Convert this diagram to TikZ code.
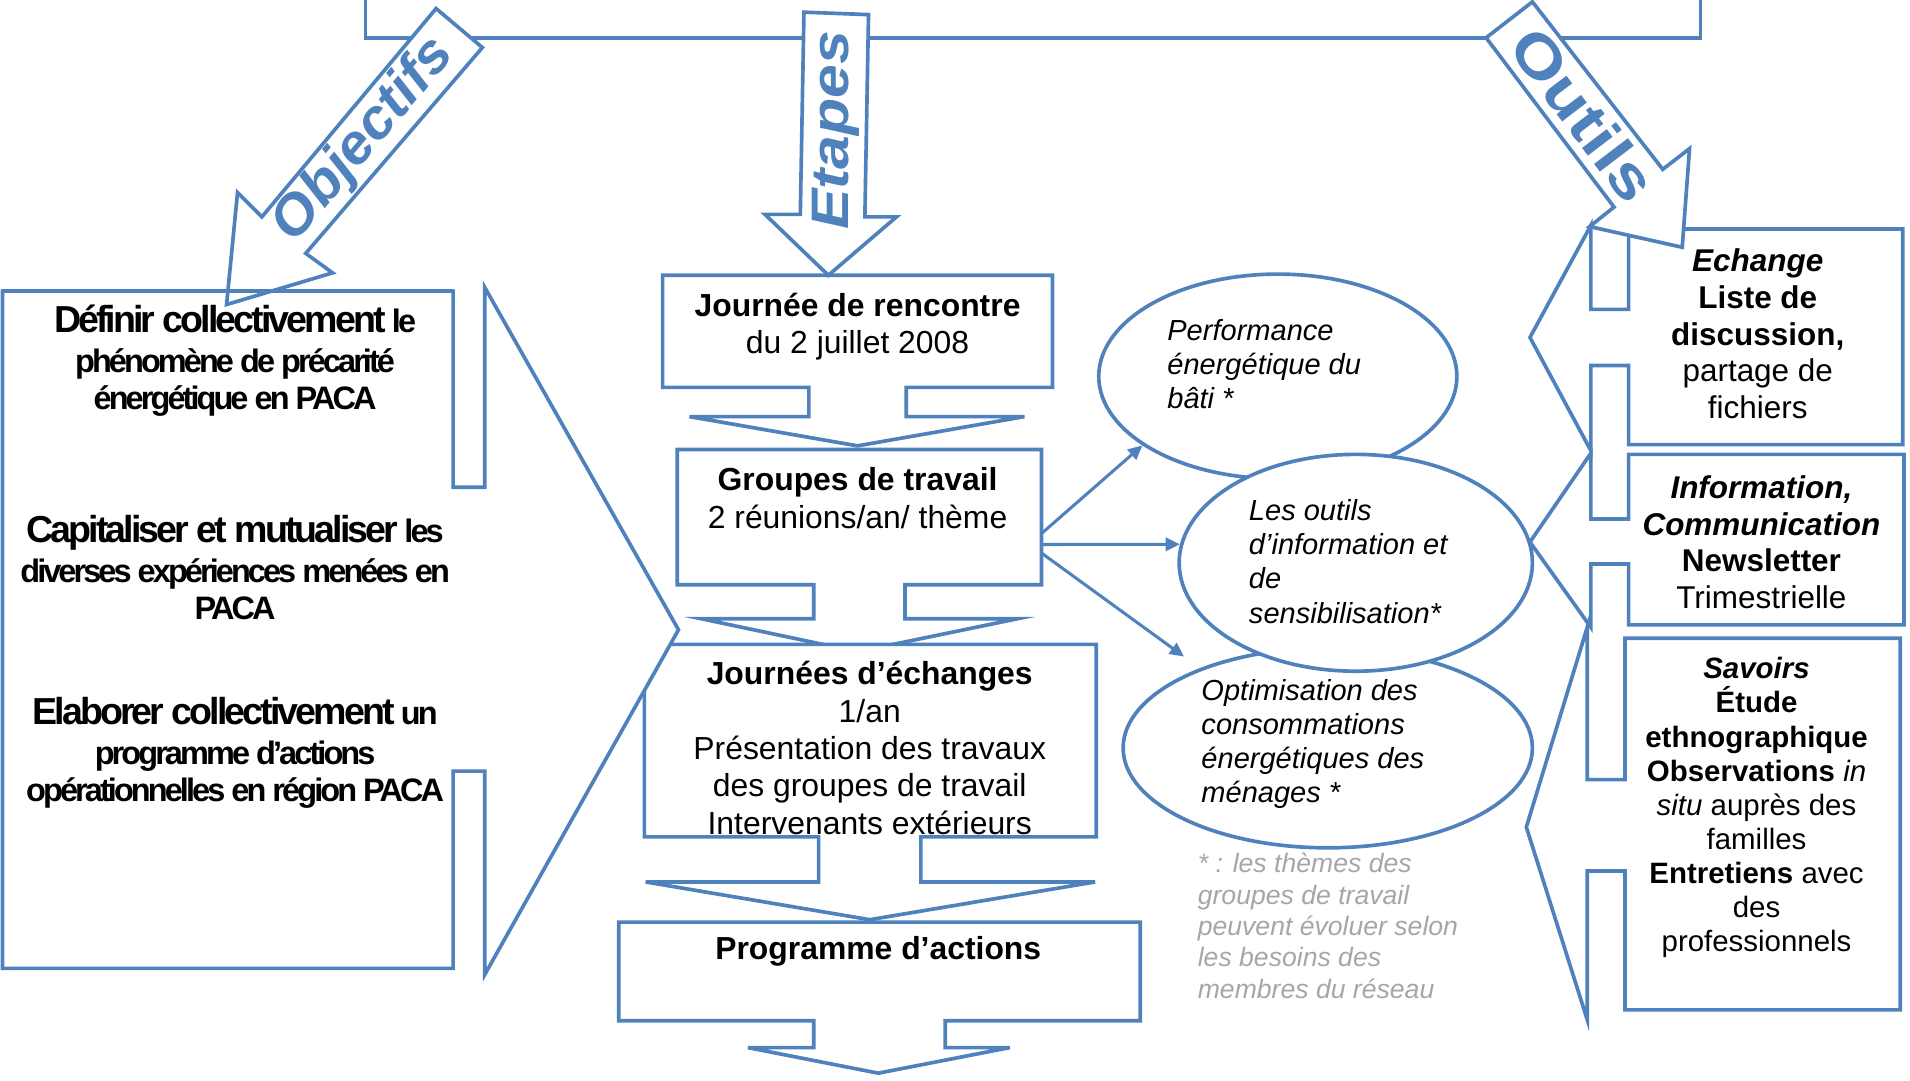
\documentclass[tikz,border=0pt]{standalone}
\usepackage{fontspec}
\setmainfont{Liberation Sans}
\newfontfamily\condsmall[LetterSpace=-9.0]{Liberation Sans}
\newfontfamily\condbig[LetterSpace=-7.8]{Liberation Sans}
\usetikzlibrary{shapes.geometric,arrows.meta}
\definecolor{ob}{RGB}{79,129,189}
\definecolor{fn}{RGB}{166,166,166}
\begin{document}
\begin{tikzpicture}[x=0.6pt,y=-0.6pt,
  blk/.style={draw=ob,line width=1.8pt,fill=white,line join=miter},
  oval/.style={ellipse,draw=ob,line width=1.8pt,fill=white,inner sep=0pt},
  conn/.style={draw=ob,line width=1.5pt,-{Triangle[length=7pt,width=6.5pt]}},
  ctxt/.style={font=\fontsize{15.7}{18.4}\selectfont,align=center,inner sep=0pt},
  ltxt/.style={font=\condsmall\bfseries\fontsize{16}{18.3}\selectfont,align=center,inner sep=0pt},
  etxt/.style={font=\fontsize{14.3}{16.8}\selectfont\itshape,align=left,inner sep=0pt,anchor=west},
  ftxt/.style={font=\fontsize{13.1}{15.45}\selectfont\itshape,text=fn,align=left,inner sep=0pt,anchor=west},
  rtxt/.style={font=\fontsize{15.5}{18}\selectfont,align=center,inner sep=0pt},
  stxt/.style={font=\fontsize{14.5}{16.8}\selectfont,align=center,inner sep=0pt},
  wart/.style={text=ob,bfseries,inner sep=0pt},
  bfseries/.style={font=\bfseries}]
\useasboundingbox (0,0) rectangle (1568,887);

% top bracket
\draw[draw=ob,line width=1.8pt] (300,0) -- (300,31) -- (1396,31) -- (1396,0);

% central down-arrow callouts
\draw[blk] (544,226) -- (864,226) -- (864,318) -- (744,318) -- (744,342) -- (841,342) -- (704,366) -- (566,342) -- (664,342) -- (664,318) -- (544,318) -- cycle;
\draw[blk] (556,369) -- (855,369) -- (855,480) -- (743,480) -- (743,508) -- (835,508) -- (704,535) -- (576,508) -- (668,508) -- (668,480) -- (556,480) -- cycle;
\draw[blk] (529,529) -- (900,529) -- (900,687) -- (756,687) -- (756,724) -- (899,724) -- (714,755) -- (530,724) -- (672,724) -- (672,687) -- (529,687) -- cycle;
\draw[blk] (508,757) -- (936,757) -- (936,838) -- (776,838) -- (776,860) -- (829,860) -- (721,881) -- (614,860) -- (668,860) -- (668,838) -- (508,838) -- cycle;

% left right-arrow callout
\draw[blk] (2,239) -- (372,239) -- (372,400) -- (398,400) -- (398,236) -- (557,517) -- (398,800) -- (398,633) -- (372,633) -- (372,795) -- (2,795) -- cycle;

% ellipses
\node[oval,minimum width=176.4pt,minimum height=100.8pt] (e1) at (1049,309) {};
\node[oval,minimum width=201.6pt,minimum height=98.4pt] (e3) at (1090,614) {};
\node[oval,minimum width=174pt,minimum height=106.8pt] (e2) at (1113,462) {};

% connectors
\coordinate (gA) at (855,438);
\coordinate (gB) at (855,447);
\coordinate (gC) at (855,454);
\coordinate (eC) at (972,539);
\draw[conn] (gA) -- (e1.207);
\draw[conn] (gB) -- (e2.174);
\draw[conn] (gC) -- (eC);

% right left-arrow callouts
\draw[blk] (1562,188) -- (1337,188) -- (1337,254) -- (1306,254) -- (1306,185) -- (1256,277) -- (1306,370) -- (1306,300) -- (1337,300) -- (1337,365) -- (1562,365) -- cycle;
\draw[blk] (1563,373) -- (1337,373) -- (1337,426) -- (1306,426) -- (1306,372) -- (1256,445) -- (1306,515) -- (1306,463) -- (1337,463) -- (1337,513) -- (1563,513) -- cycle;
\draw[blk] (1560,524) -- (1334,524) -- (1334,640) -- (1303,640) -- (1303,515) -- (1253,679) -- (1303,837) -- (1303,715) -- (1334,715) -- (1334,829) -- (1560,829) -- cycle;

% big block arrows
\draw[blk] (358,7) -- (396,39) -- (251,208) -- (273,224) -- (186,250) -- (195,158) -- (215,178) -- cycle;
\draw[blk] (660,10) -- (713,12) -- (710,178) -- (736,178) -- (680,226) -- (628,176) -- (657,176) -- cycle;
\draw[blk] (1258,1.5) -- (1365,139) -- (1387,122) -- (1381,203) -- (1305,186) -- (1325,170) -- (1220,31) -- cycle;
% redraw left box top over Objectifs tip
\draw[draw=ob,line width=1.8pt] (2,239) -- (372,239);

% WordArt labels
\node[text=ob,inner sep=0pt,font=\fontsize{27.5}{28}\selectfont\bfseries\itshape,rotate=49.7] (tobj) at (299,115) {\scalebox{1.04}[1]{Objectifs}};
\node[text=ob,inner sep=0pt,font=\fontsize{26}{26}\selectfont\bfseries\itshape,rotate=90] (teta) at (686,107) {\scalebox{1.15}[1]{Etapes}};
\node[text=ob,inner sep=0pt,font=\fontsize{29}{29}\selectfont\bfseries,rotate=-52.7] (tout) at (1300,94) {\scalebox{1.2}[1]{Outils}};

% left texts
\node[ltxt] (o1) at (193,296) {{\condbig\fontsize{18.5}{20}\selectfont Définir collectivement} le\\[1.5pt]phénomène de précarité\\énergétique en PACA};
\node[ltxt] (o2) at (193,466) {{\condbig\fontsize{18.5}{20}\selectfont Capitaliser et mutualiser} les\\[1pt]diverses expériences menées en\\PACA};
\node[ltxt] (o3) at (193,618) {{\condbig\fontsize{18.5}{20}\selectfont Elaborer collectivement} un\\[1.5pt]programme d’actions\\opérationnelles en région PACA};

% central texts
\node[ctxt] (t1) at (704,268) {\textbf{Journée de rencontre}\\du 2 juillet 2008};
\node[ctxt] (t2) at (704,409) {\textbf{Groupes de travail}\\2 réunions/an/ thème};
\node[ctxt] (t3) at (714,614) {\textbf{Journées d’échanges}\\1/an\\Présentation des travaux\\des groupes de travail\\Intervenants extérieurs};
\node[ctxt] (t4) at (721,781) {\textbf{Programme d’actions}};

% ellipse texts
\node[etxt] (x1) at (958,299) {Performance\\énergétique du\\bâti *};
\node[etxt] (x2) at (1025,461) {Les outils\\d’information et\\de\\sensibilisation*};
\node[etxt] (x3) at (986,611) {Optimisation des\\consommations\\énergétiques des\\ménages *};
\node[ftxt] (fnote) at (983,760) {* : les thèmes des\\groupes de travail\\peuvent évoluer selon\\les besoins des\\membres du réseau};

% right texts
\node[rtxt] (r1) at (1443,274) {\textbf{\textit{Echange}}\\\textbf{Liste de}\\\textbf{discussion,}\\partage de\\fichiers};
\node[rtxt] (r2) at (1446,445) {\textbf{\textit{Information,}}\\\textbf{\textit{Communication}}\\\textbf{Newsletter}\\Trimestrielle};
\node[stxt] (r3) at (1442,663) {\textbf{\textit{Savoirs}}\\\textbf{Étude}\\\textbf{ethnographique}\\\textbf{Observations} \textit{in}\\\textit{situ} auprès des\\familles\\\textbf{Entretiens} avec\\des\\professionnels};
\end{tikzpicture}
\end{document}
